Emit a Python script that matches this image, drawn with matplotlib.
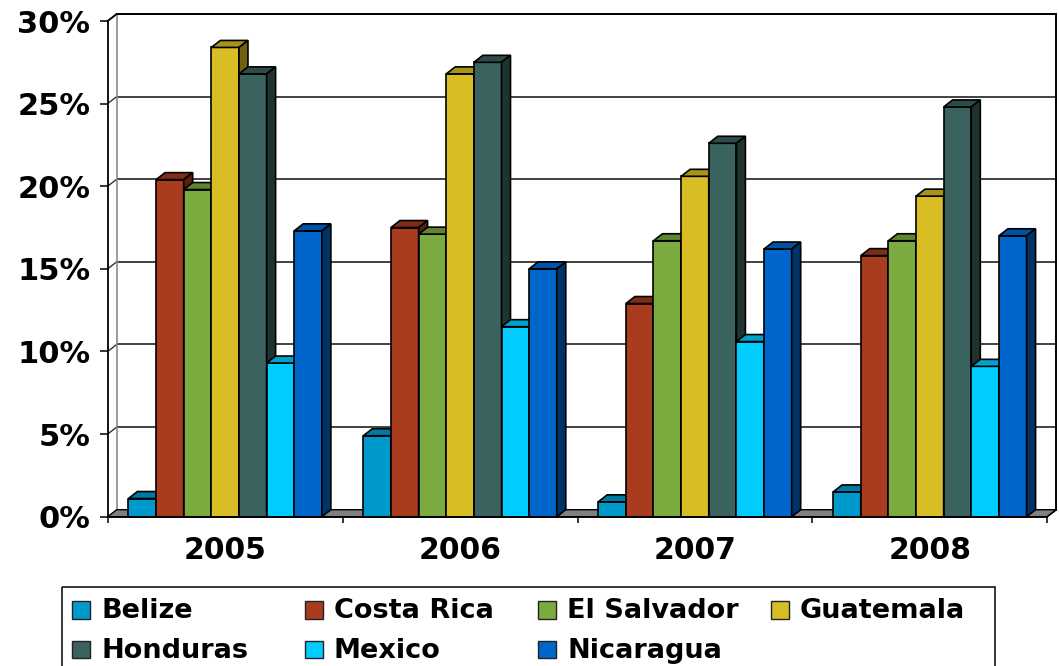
import matplotlib
matplotlib.use("Agg")
import matplotlib.pyplot as plt
from matplotlib.patches import Polygon, Rectangle
from matplotlib.ticker import FuncFormatter

# ---- data -------------------------------------------------------------
years = ["2005", "2006", "2007", "2008"]
countries = ["Belize", "Costa Rica", "El Salvador", "Guatemala",
             "Honduras", "Mexico", "Nicaragua"]
belize = [1.1, 4.9, 0.9, 1.5]
costa_rica = [20.4, 17.5, 12.9, 15.8]
el_salvador = [19.8, 17.1, 16.7, 16.7]
guatemala = [28.4, 26.8, 20.6, 19.4]
honduras = [26.8, 27.5, 22.6, 24.8]
mexico = [9.3, 11.5, 10.6, 9.1]
nicaragua = [17.3, 15.0, 16.2, 17.0]
series = [belize, costa_rica, el_salvador, guatemala, honduras, mexico, nicaragua]
y_ticks = [0, 5, 10, 15, 20, 25, 30]

# face colours: front, top, side
front_colors = ["#0099CC", "#A93B1E", "#7BAB3F", "#D8BE24", "#3A625E", "#00CCFF", "#0066CC"]
top_colors = ["#0079A3", "#802C16", "#5E8430", "#A8921A", "#2D4B48", "#00A3CC", "#0052A3"]
side_colors = ["#005C7A", "#5A1F0F", "#3E5820", "#6E6010", "#1F332F", "#007A99", "#003366"]

plt.rcParams["font.family"] = "DejaVu Sans"
plt.rcParams["font.weight"] = "bold"

W, H = 1059, 666
fig = plt.figure(figsize=(W / 100, H / 100), dpi=100)
fig.patch.set_facecolor("white")

# front plane of the 3-D plot area
ax_l, ax_b, ax_w, ax_h = 107.7, 516.7, 939.6, 495.7
ax = fig.add_axes([ax_l / W, (H - ax_b) / H, ax_w / W, ax_h / H])
n_cat = len(years)
ymax = 30
ax.set_xlim(0, n_cat)
ax.set_ylim(0, ymax)
ax.patch.set_visible(False)

# depth of the 3-D box, in data units
DX = 9.0 * n_cat / ax_w
DY = 7.0 * ymax / ax_h

# back wall
ax.add_patch(Polygon([(DX, DY), (n_cat + DX, DY), (n_cat + DX, ymax + DY), (DX, ymax + DY)],
                     closed=True, facecolor="white", edgecolor="none", zorder=0, clip_on=False))
for t in y_ticks[1:]:
    ax.plot([DX, n_cat + DX], [t + DY, t + DY], color="#333333", lw=1.3, zorder=1, clip_on=False)
    ax.plot([0, DX], [t, t + DY], color="#333333", lw=1.0, zorder=1, clip_on=False)
ax.plot([DX, DX], [DY, ymax + DY], color="#8a8a8a", lw=1.2, zorder=1, clip_on=False)
ax.plot([DX, n_cat + DX], [ymax + DY, ymax + DY], color="black", lw=1.4, zorder=1, clip_on=False)
ax.plot([n_cat + DX, n_cat + DX], [DY, ymax + DY], color="black", lw=1.4, zorder=1, clip_on=False)

# floor
ax.add_patch(Polygon([(0, 0), (n_cat, 0), (n_cat + DX, DY), (DX, DY)], closed=True,
                     facecolor="#808080", edgecolor="black", lw=1.0, zorder=2, clip_on=False))

# bars (drawn left to right so nearer faces overlap correctly)
n_ser = len(series)
bw = 1.0 / (n_ser + 1.5)
start = (1.0 - n_ser * bw) / 2
edge_kw = dict(edgecolor="black", lw=1.2, clip_on=False)
for i in range(n_cat):
    for j, vals in enumerate(series):
        v = vals[i]
        x0 = i + start + j * bw
        x1 = x0 + bw
        z = 3 + (i * n_ser + j) * 0.01
        ax.bar([x0], [v], width=bw, align="edge", color=front_colors[j],
               zorder=z, **edge_kw)
        ax.add_patch(Polygon([(x0, v), (x1, v), (x1 + DX, v + DY), (x0 + DX, v + DY)],
                             closed=True, facecolor=top_colors[j], zorder=z + 0.002, **edge_kw))
        ax.add_patch(Polygon([(x1, 0), (x1 + DX, DY), (x1 + DX, v + DY), (x1, v)],
                             closed=True, facecolor=side_colors[j], zorder=z + 0.004, **edge_kw))
ax.plot([n_cat, n_cat + DX], [0, DY], color="black", lw=1.0, zorder=5, clip_on=False)
ax.plot([0, DX], [ymax, ymax + DY], color="black", lw=1.3, zorder=5, clip_on=False)

# axes, ticks and labels
for s in ("top", "right"):
    ax.spines[s].set_visible(False)
for s in ("left", "bottom"):
    ax.spines[s].set_linewidth(1.3)
    ax.spines[s].set_zorder(6)
ax.set_yticks(y_ticks)
ax.yaxis.set_major_formatter(FuncFormatter(lambda v, p: f"{v:.0f}%"))
ax.tick_params(axis="y", direction="out", length=5.5, width=1.1, pad=7,
               labelsize=22)
ax.set_xticks(range(n_cat + 1))
ax.set_xticklabels([""] * (n_cat + 1))
ax.tick_params(axis="x", which="major", direction="out", length=4.5, width=1.1)
ax.set_xticks([i + 0.5 for i in range(n_cat)], minor=True)
ax.set_xticklabels(years, minor=True)
ax.tick_params(axis="x", which="minor", length=0, pad=14, labelsize=21.5)

# legend, laid out in equal-width columns
lax = fig.add_axes([0, 0, 1, 1])
lax.set_xlim(0, W)
lax.set_ylim(H, 0)
lax.axis("off")
lax.patch.set_visible(False)
lax.add_patch(Rectangle((62, 586.7), 933, 120, fill=False, edgecolor="black", lw=1.1,
                        clip_on=False))
col_x = [72, 305, 538, 771]
row_base = [618, 657.5]
for k, name in enumerate(countries):
    r, c = divmod(k, 4)
    mx = col_x[c]
    lax.add_patch(Rectangle((mx, row_base[r] - 17), 18, 17.5, facecolor=front_colors[k],
                            edgecolor="#222222", lw=1.0))
    lax.text(mx + 29, row_base[r], name, fontsize=19.5, fontweight="bold",
             ha="left", va="baseline")

fig.savefig("out.png", dpi=100)
